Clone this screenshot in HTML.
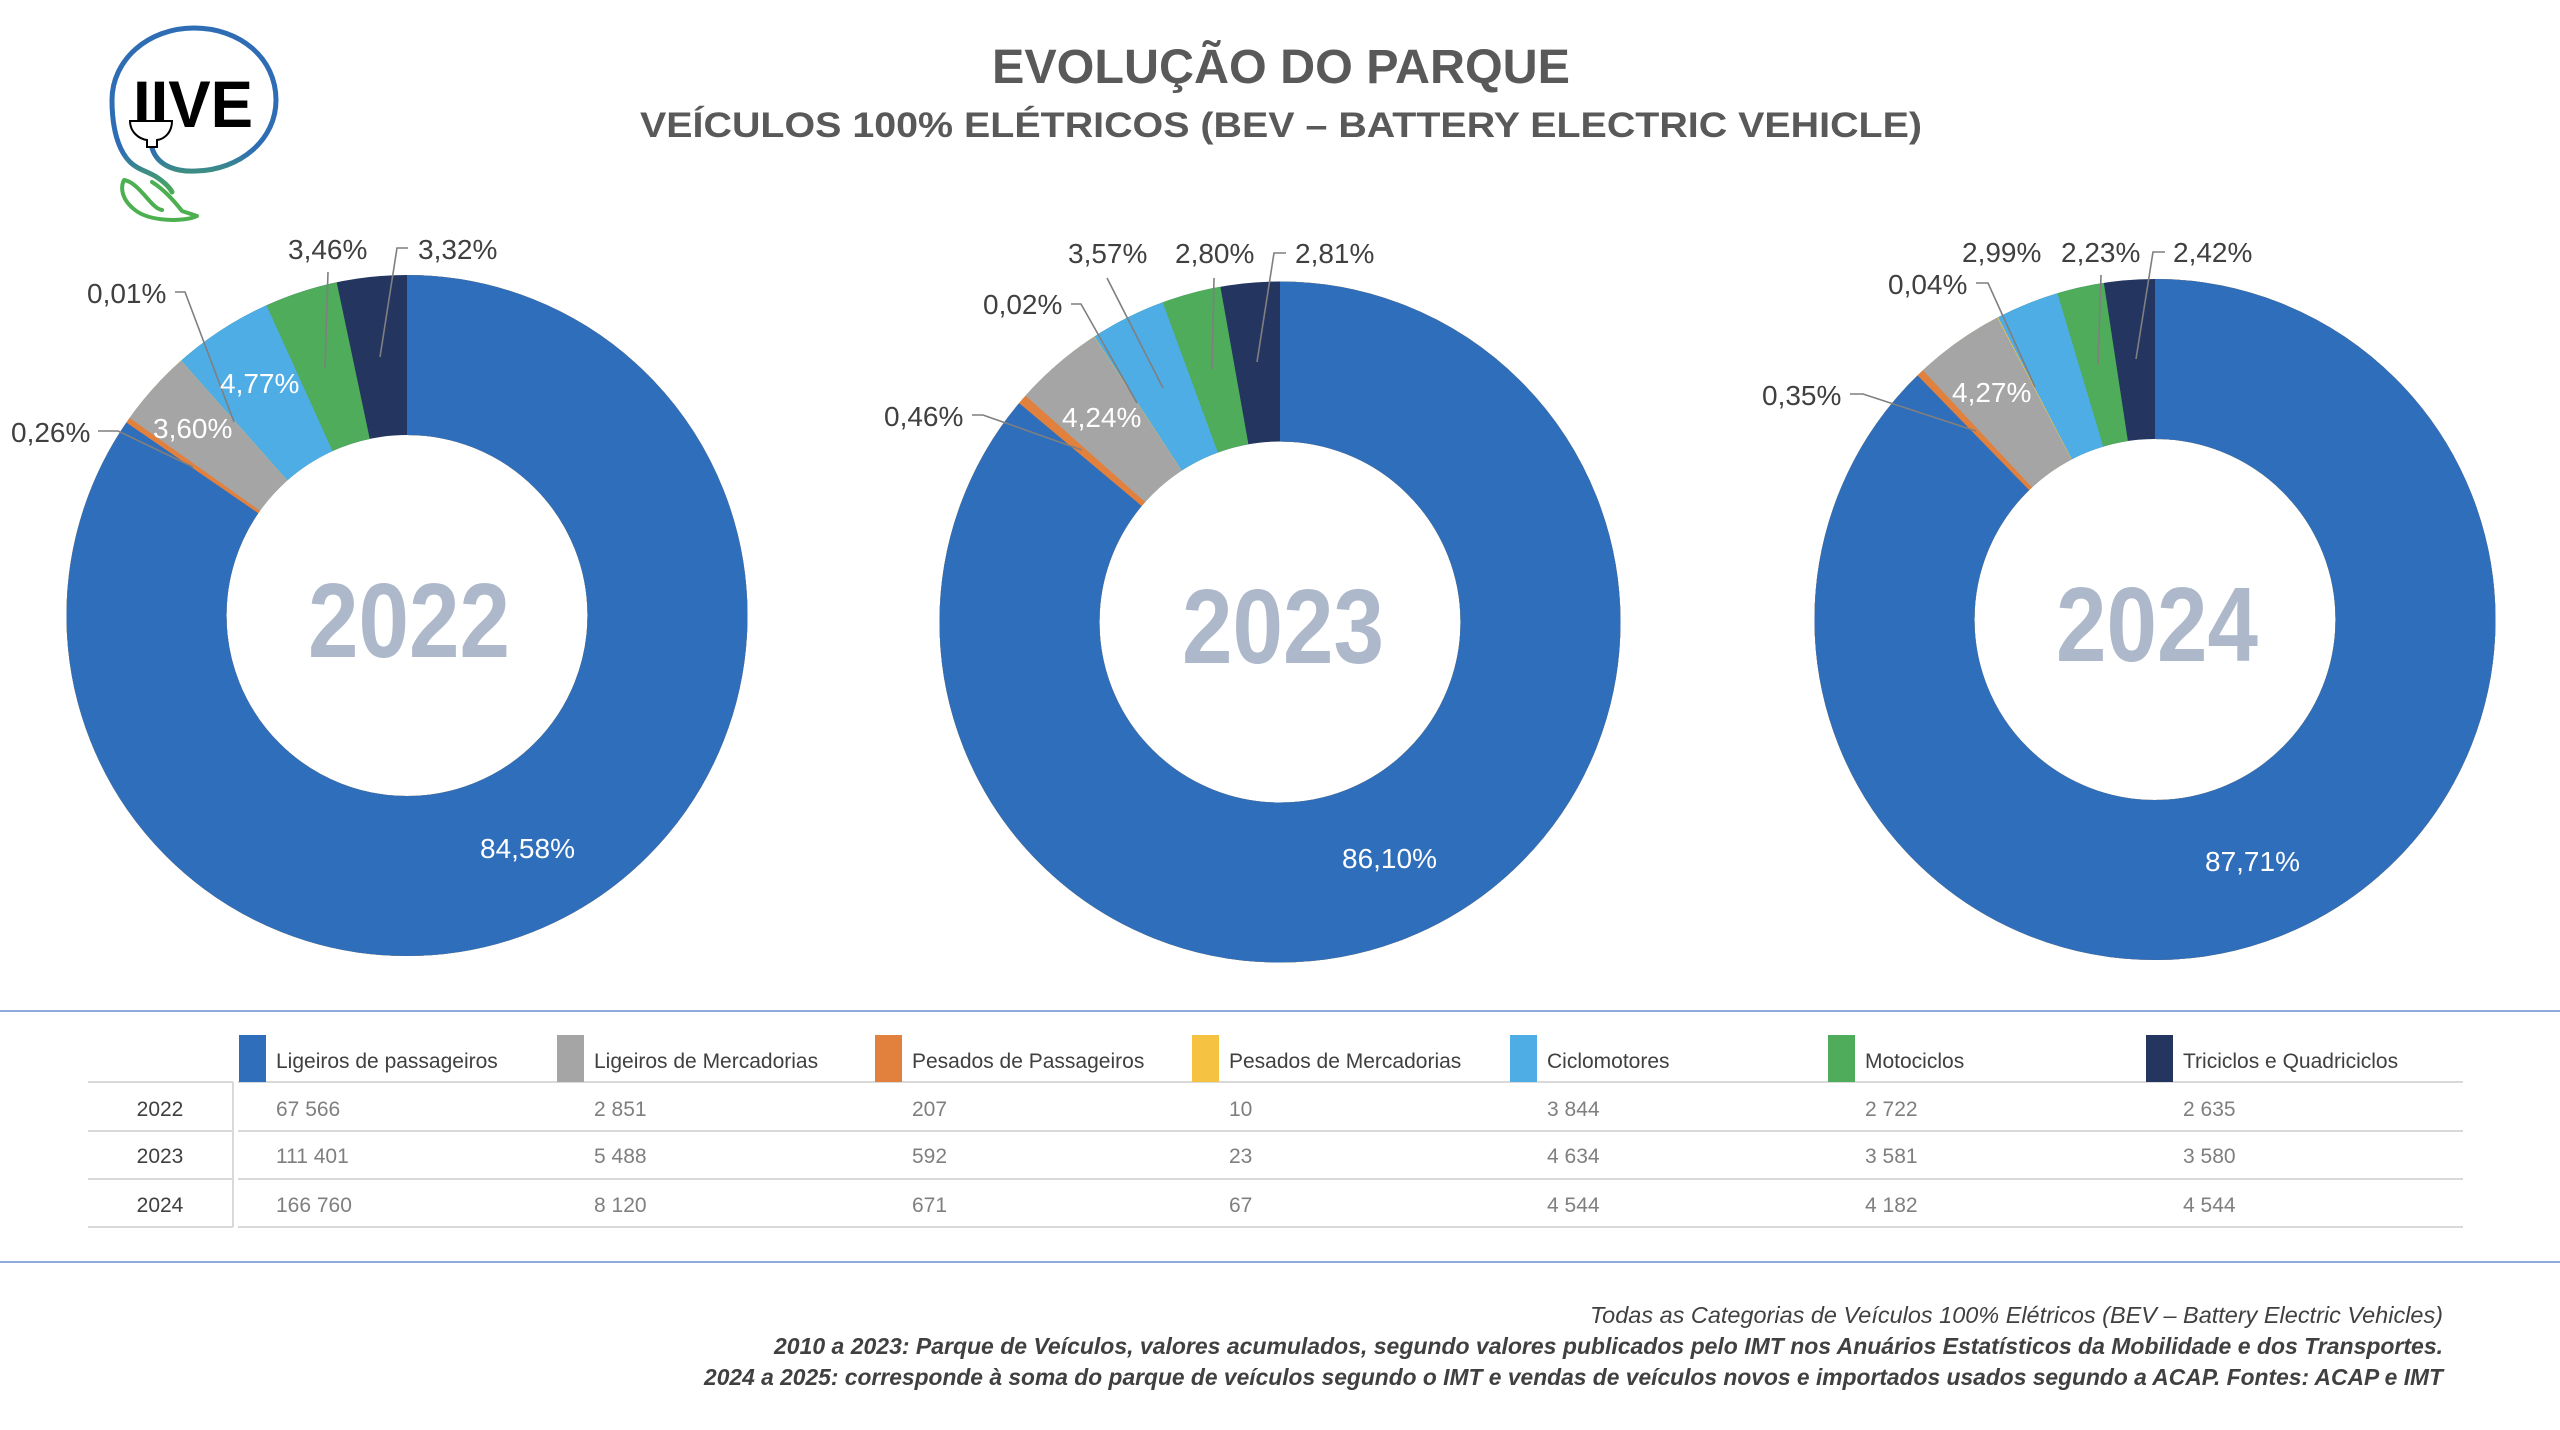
<!DOCTYPE html>
<html>
<head>
<meta charset="utf-8">
<style>
html,body{margin:0;padding:0;background:#fff;}
svg{display:block;}
text{font-family:"Liberation Sans",sans-serif;}
</style>
</head>
<body>
<svg width="2560" height="1430" viewBox="0 0 2560 1430" xmlns="http://www.w3.org/2000/svg">
<defs>
<linearGradient id="cord" gradientUnits="userSpaceOnUse" x1="0" y1="150" x2="0" y2="195">
<stop offset="0" stop-color="#2E6DB4"/>
<stop offset="1" stop-color="#4CAF50"/>
</linearGradient>
</defs>
<rect width="2560" height="1430" fill="#fff"/>

<!-- Logo -->
<path d="M152,148 C158,168 180,172 196,171 C240,170 276,140 276,100 C276,58 240,28 194,28 C148,28 112,60 112,100 C112,128 118,150 130,162 C138,170 150,172 158,178 C165,183 170,188 172,192" fill="none" stroke="url(#cord)" stroke-width="5" stroke-linecap="round"/>
<path d="M152,182 C165,190 175,202 182,211 L197,216 C185,222 150,222 135,210 C122,200 120,188 124,180 C132,181 140,190 147,198 C153,205 157,209 162,210" fill="none" stroke="#4CAF50" stroke-width="4" stroke-linecap="round" stroke-linejoin="round"/>
<text x="133" y="127" font-size="66" font-weight="bold" fill="#000" textLength="120" lengthAdjust="spacingAndGlyphs">IIVE</text>
<path d="M130,121 H172 C172,132 165,139 157,140 V147 H147 V140 C139,139 130,132 130,121 Z" fill="#fff" stroke="#000" stroke-width="2"/>

<!-- Titles -->
<text x="1281" y="83" font-size="48" font-weight="bold" fill="#595959" text-anchor="middle" textLength="578" lengthAdjust="spacingAndGlyphs">EVOLUÇÃO DO PARQUE</text>
<text x="1281" y="137" font-size="35" font-weight="bold" fill="#595959" text-anchor="middle" textLength="1282" lengthAdjust="spacingAndGlyphs">VEÍCULOS 100% ELÉTRICOS (BEV – BATTERY ELECTRIC VEHICLE)</text>

<!-- Donut 2022 -->
<g transform="rotate(-90 407 615.5)" fill="none" stroke-width="160">
<circle cx="407" cy="615.5" r="260.5" stroke="#243560"/>
<circle cx="407" cy="615.5" r="260.5" stroke="#4EAC5B" stroke-dasharray="1582.43 3000"/>
<circle cx="407" cy="615.5" r="260.5" stroke="#4FADE6" stroke-dasharray="1525.80 3000"/>
<circle cx="407" cy="615.5" r="260.5" stroke="#F5C242" stroke-dasharray="1447.72 3000"/>
<circle cx="407" cy="615.5" r="260.5" stroke="#A5A5A5" stroke-dasharray="1447.56 3000"/>
<circle cx="407" cy="615.5" r="260.5" stroke="#E2813E" stroke-dasharray="1388.64 3000"/>
<circle cx="407" cy="615.5" r="260.5" stroke="#2E6EBA" stroke-dasharray="1384.38 3000"/>
</g>

<!-- Donut 2023 -->
<g transform="rotate(-90 1280 622)" fill="none" stroke-width="160">
<circle cx="1280" cy="622" r="260.5" stroke="#243560"/>
<circle cx="1280" cy="622" r="260.5" stroke="#4EAC5B" stroke-dasharray="1590.78 3000"/>
<circle cx="1280" cy="622" r="260.5" stroke="#4FADE6" stroke-dasharray="1544.95 3000"/>
<circle cx="1280" cy="622" r="260.5" stroke="#F5C242" stroke-dasharray="1486.51 3000"/>
<circle cx="1280" cy="622" r="260.5" stroke="#A5A5A5" stroke-dasharray="1486.19 3000"/>
<circle cx="1280" cy="622" r="260.5" stroke="#E2813E" stroke-dasharray="1416.79 3000"/>
<circle cx="1280" cy="622" r="260.5" stroke="#2E6EBA" stroke-dasharray="1409.26 3000"/>
</g>

<!-- Donut 2024 -->
<g transform="rotate(-90 2155 619.5)" fill="none" stroke-width="160">
<circle cx="2155" cy="619.5" r="260.5" stroke="#243560"/>
<circle cx="2155" cy="619.5" r="260.5" stroke="#4EAC5B" stroke-dasharray="1597.32 3000"/>
<circle cx="2155" cy="619.5" r="260.5" stroke="#4FADE6" stroke-dasharray="1560.82 3000"/>
<circle cx="2155" cy="619.5" r="260.5" stroke="#F5C242" stroke-dasharray="1511.88 3000"/>
<circle cx="2155" cy="619.5" r="260.5" stroke="#A5A5A5" stroke-dasharray="1511.23 3000"/>
<circle cx="2155" cy="619.5" r="260.5" stroke="#E2813E" stroke-dasharray="1441.34 3000"/>
<circle cx="2155" cy="619.5" r="260.5" stroke="#2E6EBA" stroke-dasharray="1435.61 3000"/>
</g>

<!-- Year labels in centres -->
<g font-size="106" font-weight="bold" fill="#ADB9CA" text-anchor="middle">
<text x="409" y="657" textLength="202" lengthAdjust="spacingAndGlyphs">2022</text>
<text x="1283" y="663" textLength="202" lengthAdjust="spacingAndGlyphs">2023</text>
<text x="2157" y="661" textLength="202" lengthAdjust="spacingAndGlyphs">2024</text>
</g>

<!-- Leader lines -->
<g fill="none" stroke="#7F7F7F" stroke-width="1.6">
<polyline points="98,431 118,431 193,467"/>
<polyline points="175,292 185,292 234,422"/>
<polyline points="328,272 325,368"/>
<polyline points="408,248 397,248 380,357"/>

<polyline points="972,415 983,415 1082,450"/>
<polyline points="1071,304 1081,304 1137,403"/>
<polyline points="1107,278 1163,388"/>
<polyline points="1214,278 1212,369"/>
<polyline points="1286,253 1274,253 1257,362"/>

<polyline points="1850,394 1863,394 1976,431"/>
<polyline points="1976,283 1988,283 2035,387"/>
<polyline points="2101,275 2098,365"/>
<polyline points="2165,252 2153,252 2136,359"/>
</g>

<!-- Data labels -->
<g font-size="28" fill="#404040">
<text x="11" y="442">0,26%</text>
<text x="87" y="303">0,01%</text>
<text x="288" y="259">3,46%</text>
<text x="418" y="259">3,32%</text>

<text x="884" y="426">0,46%</text>
<text x="983" y="314">0,02%</text>
<text x="1068" y="263">3,57%</text>
<text x="1175" y="263">2,80%</text>
<text x="1295" y="263">2,81%</text>

<text x="1762" y="405">0,35%</text>
<text x="1888" y="294">0,04%</text>
<text x="1962" y="262">2,99%</text>
<text x="2061" y="262">2,23%</text>
<text x="2173" y="262">2,42%</text>
</g>
<g font-size="28" fill="#FFFFFF">
<text x="153" y="438">3,60%</text>
<text x="220" y="393">4,77%</text>
<text x="480" y="858">84,58%</text>
<text x="1062" y="427">4,24%</text>
<text x="1342" y="868">86,10%</text>
<text x="1952" y="402">4,27%</text>
<text x="2205" y="871">87,71%</text>
</g>

<!-- Table frame lines -->
<line x1="0" y1="1011" x2="2560" y2="1011" stroke="#8FAADC" stroke-width="2"/>
<line x1="0" y1="1262" x2="2560" y2="1262" stroke="#8FAADC" stroke-width="2"/>

<g stroke="#D9D9D9" stroke-width="2">
<line x1="88" y1="1082" x2="233" y2="1082"/>
<line x1="88" y1="1131" x2="233" y2="1131"/>
<line x1="88" y1="1179" x2="233" y2="1179"/>
<line x1="88" y1="1227" x2="233" y2="1227"/>
<line x1="238" y1="1082" x2="2463" y2="1082"/>
<line x1="238" y1="1131" x2="2463" y2="1131"/>
<line x1="238" y1="1179" x2="2463" y2="1179"/>
<line x1="238" y1="1227" x2="2463" y2="1227"/>
<line x1="233" y1="1082" x2="233" y2="1227"/>
</g>

<!-- Legend swatches -->
<rect x="239" y="1035" width="27" height="47" fill="#2E6EBA"/>
<rect x="557" y="1035" width="27" height="47" fill="#A5A5A5"/>
<rect x="875" y="1035" width="27" height="47" fill="#E2813E"/>
<rect x="1192" y="1035" width="27" height="47" fill="#F5C242"/>
<rect x="1510" y="1035" width="27" height="47" fill="#4FADE6"/>
<rect x="1828" y="1035" width="27" height="47" fill="#4EAC5B"/>
<rect x="2146" y="1035" width="27" height="47" fill="#243560"/>

<g font-size="21" fill="#404040">
<text x="276" y="1068">Ligeiros de passageiros</text>
<text x="594" y="1068">Ligeiros de Mercadorias</text>
<text x="912" y="1068">Pesados de Passageiros</text>
<text x="1229" y="1068">Pesados de Mercadorias</text>
<text x="1547" y="1068">Ciclomotores</text>
<text x="1865" y="1068">Motociclos</text>
<text x="2183" y="1068">Triciclos e Quadriciclos</text>
</g>

<g font-size="21" fill="#404040" text-anchor="middle">
<text x="160" y="1116">2022</text>
<text x="160" y="1163">2023</text>
<text x="160" y="1212">2024</text>
</g>

<g font-size="21" fill="#7F7F7F">
<text x="276" y="1116">67 566</text>
<text x="594" y="1116">2 851</text>
<text x="912" y="1116">207</text>
<text x="1229" y="1116">10</text>
<text x="1547" y="1116">3 844</text>
<text x="1865" y="1116">2 722</text>
<text x="2183" y="1116">2 635</text>

<text x="276" y="1163">111 401</text>
<text x="594" y="1163">5 488</text>
<text x="912" y="1163">592</text>
<text x="1229" y="1163">23</text>
<text x="1547" y="1163">4 634</text>
<text x="1865" y="1163">3 581</text>
<text x="2183" y="1163">3 580</text>

<text x="276" y="1212">166 760</text>
<text x="594" y="1212">8 120</text>
<text x="912" y="1212">671</text>
<text x="1229" y="1212">67</text>
<text x="1547" y="1212">4 544</text>
<text x="1865" y="1212">4 182</text>
<text x="2183" y="1212">4 544</text>
</g>

<!-- Footer -->
<g font-size="23" font-style="italic" fill="#404040" text-anchor="end">
<text x="2443" y="1323" textLength="853" lengthAdjust="spacingAndGlyphs">Todas as Categorias de Veículos 100% Elétricos (BEV – Battery Electric Vehicles)</text>
<text x="2443" y="1354" font-weight="bold" textLength="1669" lengthAdjust="spacingAndGlyphs">2010 a 2023: Parque de Veículos, valores acumulados, segundo valores publicados pelo IMT nos Anuários Estatísticos da Mobilidade e dos Transportes.</text>
<text x="2443" y="1385" font-weight="bold" textLength="1739" lengthAdjust="spacingAndGlyphs">2024 a 2025: corresponde à soma do parque de veículos segundo o IMT e vendas de veículos novos e importados usados segundo a ACAP. Fontes: ACAP e IMT</text>
</g>
</svg>
</body>
</html>
